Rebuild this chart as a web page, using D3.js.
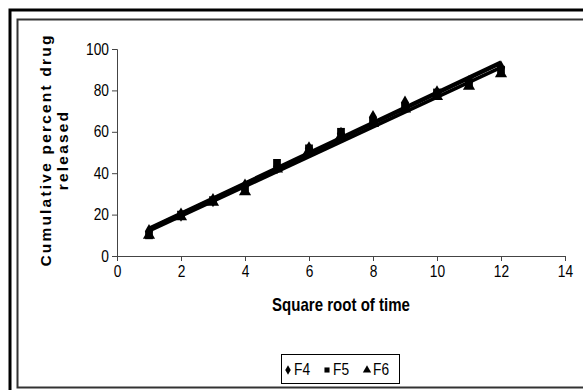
<!DOCTYPE html>
<html>
<head>
<meta charset="utf-8">
<script src="https://cdn.jsdelivr.net/npm/d3@7"></script>
<style>
  html, body { margin: 0; padding: 0; background: #fff; }
  svg { display: block; font-family: "Liberation Sans", Arial, sans-serif; }
</style>
</head>
<body>
<svg id="chart" width="583" height="390"></svg>
<script>
// Cumulative release vs square root of time, formulations F4-F6
const sqrtTime = [1, 2, 3, 4, 5, 6, 7, 8, 9, 10, 11, 12];
const f4 = [12, 20, 27, 34, 43, 52, 59, 67, 74, 79, 84, 91];
const f5 = [10, 20, 27, 33, 45, 52, 60, 65, 72, 79, 84, 90];
const f6 = [10, 19, 26, 31, 42, 51, 58, 64, 71, 77, 82, 88];
const seriesNames = ["F4", "F5", "F6"];
const xTicks = [0, 2, 4, 6, 8, 10, 12, 14];
const yTicks = [0, 20, 40, 60, 80, 100];

const series = [
  { name: seriesNames[0], values: f4, symbol: d3.symbolDiamond },
  { name: seriesNames[1], values: f5, symbol: d3.symbolSquare },
  { name: seriesNames[2], values: f6, symbol: d3.symbolTriangle }
];

const svg = d3.select("#chart");

// frame: heavy outer border and thin inner border
svg.append("rect").attr("x", 10).attr("y", 10).attr("width", 590).attr("height", 400)
  .attr("fill", "none").attr("stroke", "#000").attr("stroke-width", 3);
svg.append("rect").attr("x", 17.5).attr("y", 19.5).attr("width", 580).attr("height", 368)
  .attr("fill", "none").attr("stroke", "#333").attr("stroke-width", 2);

const x = d3.scaleLinear().domain([0, 14]).range([117, 565]);
const y = d3.scaleLinear().domain([0, 100]).range([256, 49]);

const axisColor = "#444";

// tick labels are set in a tall, narrow face: larger size squeezed horizontally
const squeeze = 0.86;

const gx = svg.append("g").attr("transform", `translate(0,${y(0)})`)
  .call(d3.axisBottom(x).tickValues(xTicks).tickSize(5).tickPadding(5));
const gy = svg.append("g").attr("transform", `translate(${x(0)},0)`)
  .call(d3.axisLeft(y).tickValues(yTicks).tickSize(5).tickPadding(3));

[gx, gy].forEach(g => {
  g.select(".domain").attr("stroke", axisColor);
  g.selectAll(".tick line").attr("stroke", axisColor);
});
gx.selectAll(".tick text")
  .attr("fill", "#000").style("font-size", "16px")
  .attr("dy", "0.71em").attr("y", 10)
  .attr("transform", `scale(${squeeze},1)`);
gy.selectAll(".tick text")
  .attr("fill", "#000").style("font-size", "16px")
  .attr("x", -8 / squeeze)
  .attr("transform", `scale(${squeeze},1)`);

// least-squares trend line per series
function fit(xs, ys) {
  const mx = d3.mean(xs), my = d3.mean(ys);
  let sxy = 0, sxx = 0;
  xs.forEach((v, i) => { sxy += (v - mx) * (ys[i] - my); sxx += (v - mx) * (v - mx); });
  const b = sxy / sxx;
  return { b, a: my - b * mx };
}

const plot = svg.append("g");

series.forEach(s => {
  const pts = sqrtTime.map((t, i) => ({ t, v: s.values[i] }));
  const sym = d3.symbol().type(s.symbol).size(s.symbol === d3.symbolTriangle ? 64 : 60);
  plot.append("g").selectAll("path").data(pts).join("path")
    .attr("transform", d => `translate(${x(d.t)},${y(d.v)})`)
    .attr("d", sym).attr("fill", "#000");
});

series.forEach(s => {
  const { a, b } = fit(sqrtTime, s.values);
  const t0 = d3.min(sqrtTime), t1 = d3.max(sqrtTime);
  plot.append("line")
    .attr("x1", x(t0)).attr("y1", y(a + b * t0))
    .attr("x2", x(t1)).attr("y2", y(a + b * t1))
    .attr("stroke", "#000").attr("stroke-width", 3.5);
});

// axis titles
svg.append("text")
  .attr("transform", `translate(341,311) scale(${squeeze},1)`)
  .attr("text-anchor", "middle")
  .style("font-size", "17.5px").style("font-weight", "bold")
  .text("Square root of time");

const yt = svg.append("text")
  .attr("transform", "translate(51,150) rotate(-90)")
  .attr("text-anchor", "middle")
  .style("font-size", "15.5px").style("font-weight", "bold")
  .style("letter-spacing", "2.2px");
yt.append("tspan").attr("x", 0).attr("dy", 0).text("Cumulative percent drug");
yt.append("tspan").attr("x", 0).attr("dy", 17).text("released");

// legend
const lg = svg.append("g").attr("transform", "translate(281,354)");
lg.append("rect").attr("x", 0.5).attr("y", 0.5).attr("width", 118).attr("height", 29)
  .attr("fill", "#fff").attr("stroke", "#000").attr("stroke-width", 1);
const legendX = [7, 46, 86];
series.forEach((s, i) => {
  lg.append("path")
    .attr("transform", `translate(${legendX[i]},16)`)
    .attr("d", d3.symbol().type(s.symbol).size(s.symbol === d3.symbolTriangle ? 30 : 26)())
    .attr("fill", "#000");
  lg.append("text")
    .attr("transform", `translate(${legendX[i] + 6},21) scale(${squeeze},1)`)
    .style("font-size", "16px")
    .text(s.name);
});
</script>
</body>
</html>
